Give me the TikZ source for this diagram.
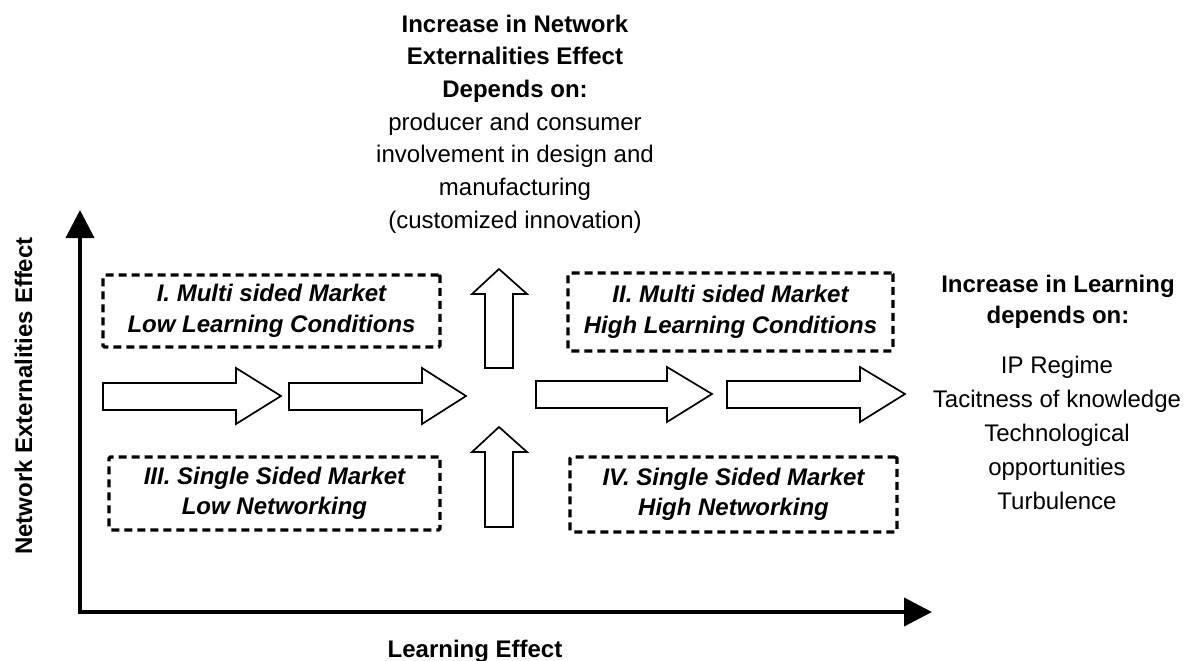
\documentclass[tikz,border=0pt]{standalone}
\usepackage{fontspec}
\setmainfont{Liberation Sans}
\usetikzlibrary{arrows.meta}
\begin{document}
\begin{tikzpicture}[x=1pt,y=-1pt,
  every node/.style={inner sep=0pt, outer sep=0pt},
  axis/.style={line width=4pt, line join=miter,
    {Triangle[length=28pt,width=28pt]}-{Triangle[length=28pt,width=28pt]}},
  quad/.style={draw, line width=3.2pt, dash pattern=on 8pt off 5pt,
    rounded corners=1.5pt, align=center,
    font=\fontsize{24}{30.5}\selectfont\bfseries\itshape},
  blockarrow/.style={draw, line width=1.7pt, fill=white, line join=miter},
  axislabel/.style={font=\fontsize{24}{28}\selectfont\bfseries},
  note/.style={align=center, anchor=north, font=\fontsize{24}{32.7}\selectfont}
]
\useasboundingbox (0,0) rectangle (1191,661);

% axes
\coordinate (ytop) at (80,210);
\coordinate (origin) at (80,612);
\coordinate (xend) at (932,612);
\draw[axis] (ytop) -- (origin) -- (xend);

\node[axislabel, rotate=90] (ylab) at (23.5,396) {Network Externalities Effect};
\node[axislabel, anchor=base] (xlab) at (475,657) {Learning Effect};

% quadrants
\node[quad, minimum width=337pt, minimum height=72pt] (q1) at (271.5,311)
  {I. Multi sided Market\\Low Learning Conditions};
\node[quad, minimum width=325pt, minimum height=78pt] (q2) at (730.5,312)
  {II. Multi sided Market\\High Learning Conditions};
\node[quad, minimum width=331pt, minimum height=73pt] (q3) at (274.5,493.5)
  {III. Single Sided Market\\Low Networking};
\node[quad, minimum width=327pt, minimum height=75pt] (q4) at (733.5,494.5)
  {IV. Single Sided Market\\High Networking};

% horizontal block arrows
\draw[blockarrow] (103,383) -- (236,383) -- (236,368) -- (281,396) -- (236,424) -- (236,410) -- (103,410) -- cycle;
\draw[blockarrow] (289,383) -- (422,383) -- (422,368) -- (466,396) -- (422,424) -- (422,410) -- (289,410) -- cycle;
\draw[blockarrow] (536,381) -- (667,381) -- (667,367) -- (712,394) -- (667,422) -- (667,408) -- (536,408) -- cycle;
\draw[blockarrow] (727,381) -- (860,381) -- (860,367) -- (905,394) -- (860,422) -- (860,408) -- (727,408) -- cycle;

% vertical block arrows
\draw[blockarrow] (485,368) -- (485,294) -- (472,294) -- (499,269) -- (527,294) -- (513,294) -- (513,368) -- cycle;
\draw[blockarrow] (485,527) -- (485,452) -- (472,452) -- (499,427) -- (527,452) -- (513,452) -- (513,527) -- cycle;

% explanatory texts
\node[note] (nettext) at (515,14.8)
  {\textbf{Increase in Network}\\\textbf{Externalities Effect}\\\textbf{Depends on:}\\
   producer and consumer\\involvement in design and\\manufacturing\\(customized innovation)};
\node[note, font=\fontsize{24}{31}\selectfont\bfseries] (learnhead) at (1058,274.8)
  {Increase in Learning\\depends on:};
\node[note, font=\fontsize{24}{34}\selectfont] (learnlist) at (1057,355.8)
  {IP Regime\\Tacitness of knowledge\\Technological\\opportunities\\Turbulence};
\end{tikzpicture}
\end{document}
